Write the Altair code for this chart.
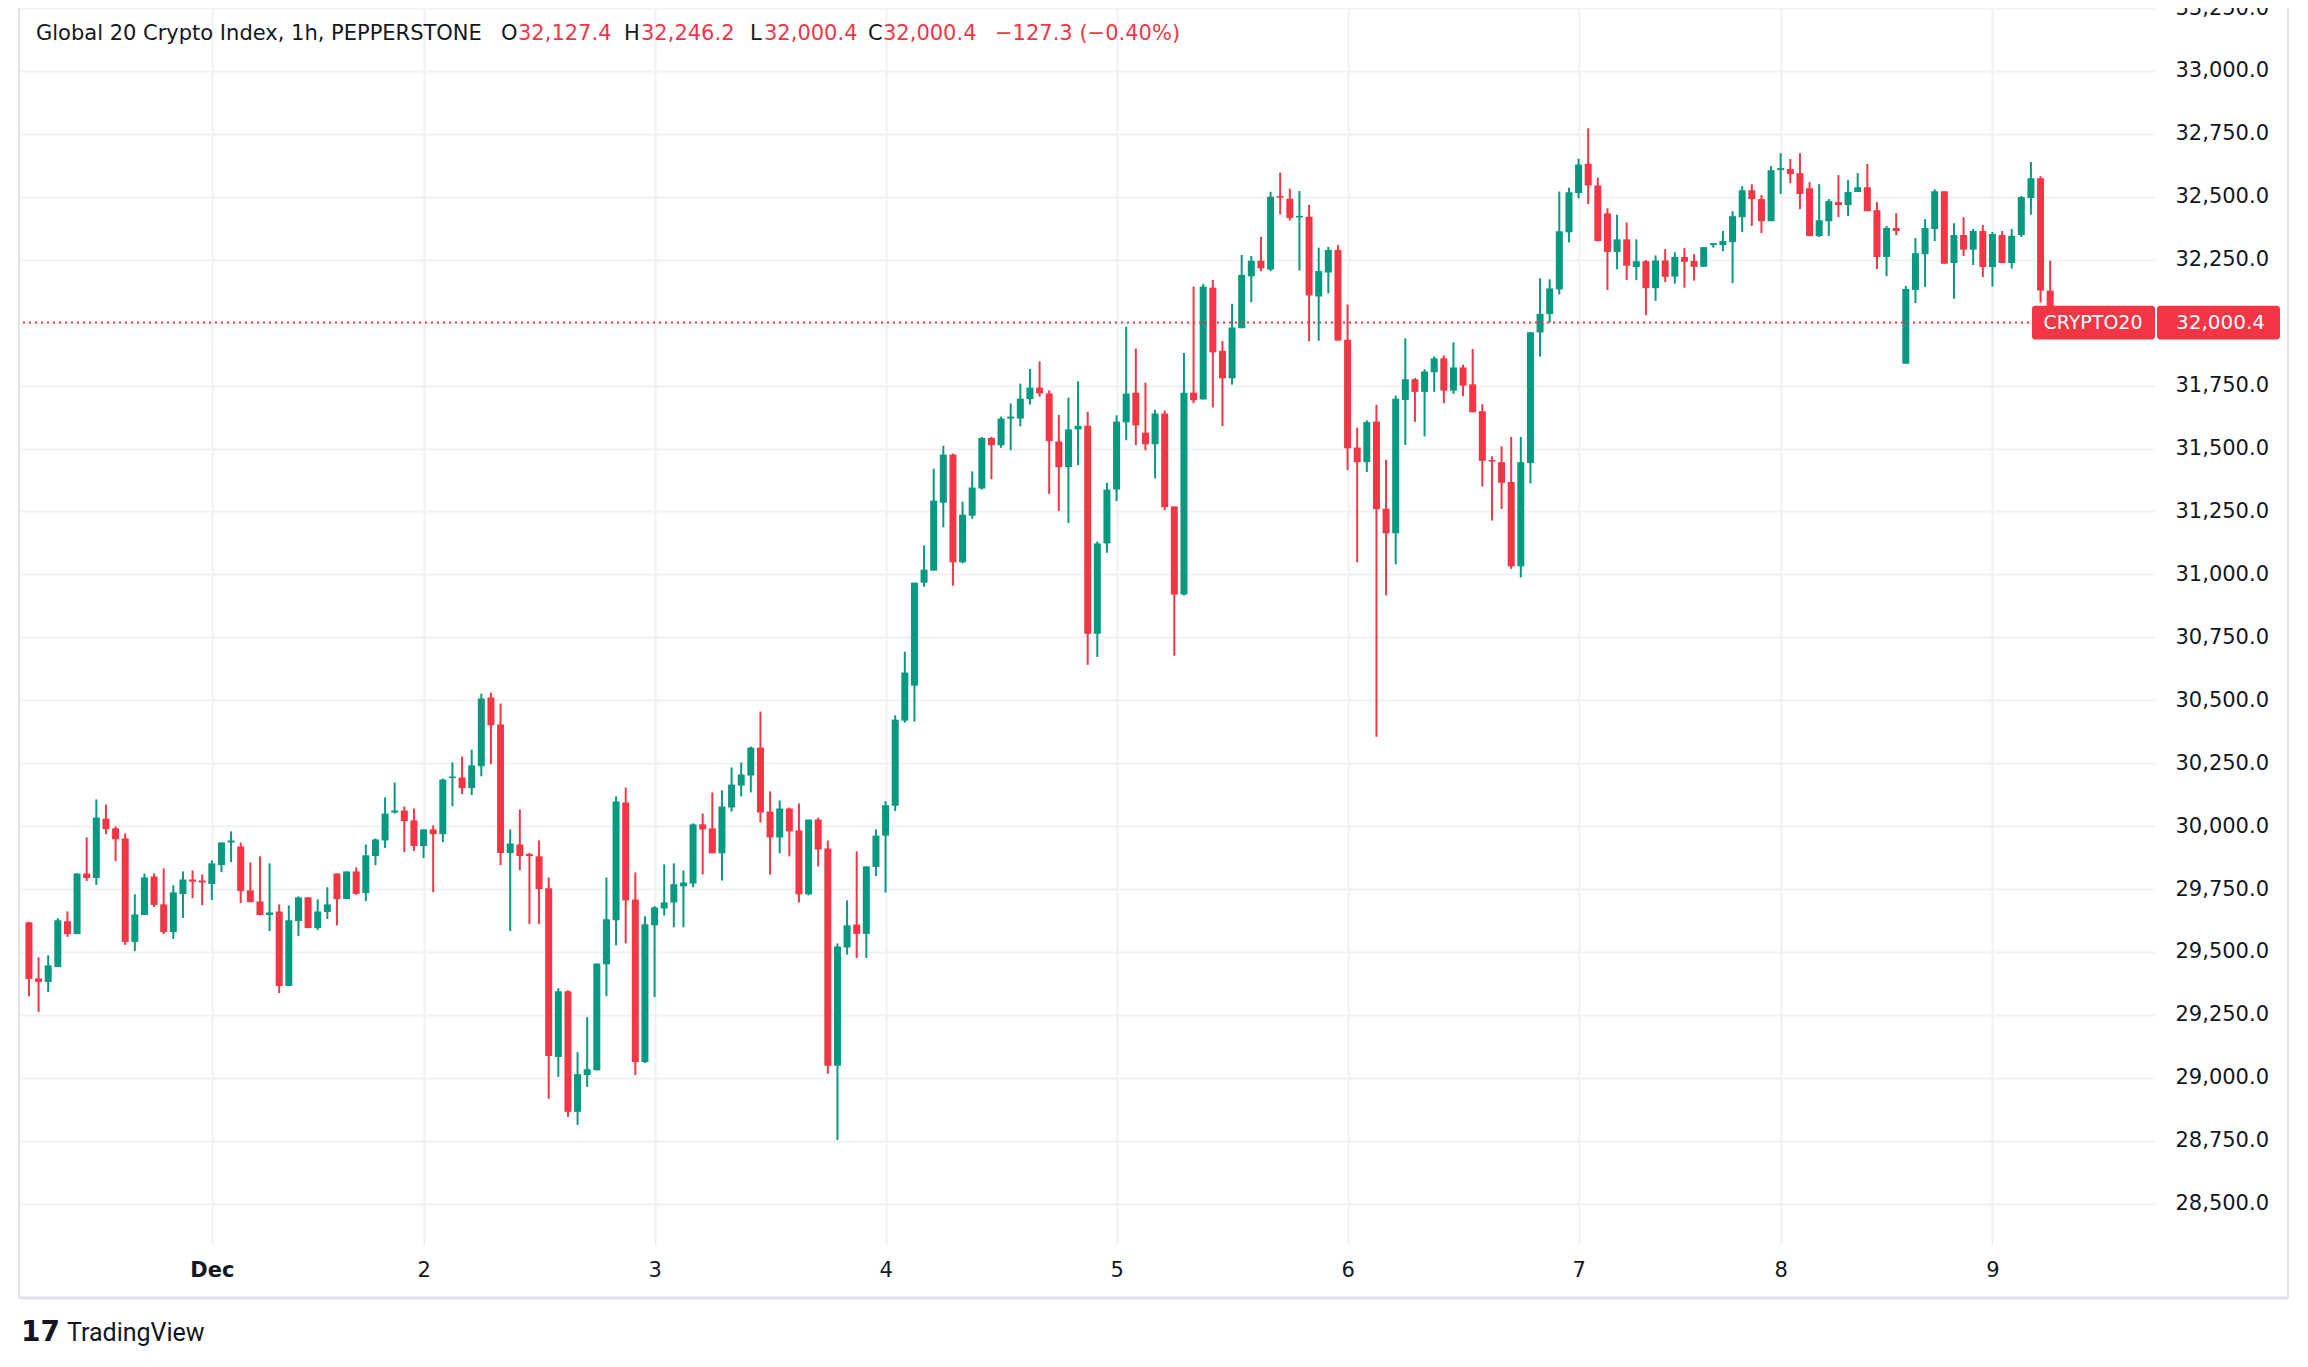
import altair as alt
import pandas as pd

# ---- hourly candles (index 0 = Nov 30, partial day) ----
opens = [29618, 29395, 29381, 29440, 29622, 29571, 29812, 29794, 30030, 29991,
         29951, 29540, 29647, 29800, 29689, 29579, 29730, 29788, 29784, 29770,
         29845, 29935, 29919, 29745, 29701, 29647, 29661, 29365, 29623, 29717,
         29595, 29659, 29812, 29710, 29820, 29734, 29881, 29943, 30054, 30062,
         30023, 29921, 29987, 29968, 30191, 30193, 30151, 30238, 30511, 30404,
         29893, 29927, 29889, 29880, 29753, 29083, 29344, 28865, 29011, 29030,
         29451, 29626, 30094, 29709, 29063, 29606, 29673, 29697, 29761, 29772,
         30007, 29991, 29892, 30074, 30161, 30201, 30312, 30058, 29955, 30070,
         29983, 29729, 30026, 29911, 29048, 29518, 29609, 29572, 29838, 29962,
         30081, 30419, 30558, 30967, 31015, 31285, 31476, 31048, 31233, 31341,
         31542, 31513, 31619, 31619, 31696, 31742, 31719, 31528, 31426, 31576,
         31590, 30764, 31123, 31337, 31604, 31722, 31563, 31517, 31639, 31270,
         30920, 31722, 31695, 32139, 31888, 31779, 31978, 32184, 32246, 32211,
         32503, 32492, 32418, 32421, 32104, 32199, 32289, 31932, 31504, 31446,
         31607, 31261, 31163, 31693, 31775, 31725, 31803, 31858, 31730, 31822,
         31755, 31648, 31454, 31446, 31367, 31032, 31443, 31961, 32034, 32132,
         32359, 32515, 32631, 32545, 32434, 32281, 32331, 32221, 32244, 32137,
         32247, 32183, 32261, 32245, 32222, 32308, 32308, 32320, 32419, 32526,
         32491, 32403, 32606, 32610, 32594, 32534, 32344, 32403, 32479, 32467,
         32519, 32538, 32447, 32261, 32376, 31837, 32130, 32272, 32372, 32522,
         32237, 32348, 32290, 32364, 32221, 32348, 32237, 32348, 32495, 32574,
         32127.4]
highs = [29620, 29479, 29487, 29634, 29661, 29812, 29955, 30106, 30086, 29999,
         29971, 29729, 29812, 29812, 29832, 29765, 29820, 29824, 29808, 29864,
         29935, 29979, 29935, 29856, 29880, 29852, 29689, 29685, 29721, 29717,
         29709, 29757, 29812, 29820, 29836, 29927, 29951, 30114, 30173, 30078,
         30070, 29987, 30003, 30189, 30253, 30276, 30304, 30526, 30530, 30487,
         29987, 30066, 29894, 29943, 29796, 29356, 29348, 29102, 29241, 29454,
         29796, 30118, 30153, 29816, 29642, 29682, 29848, 29852, 29824, 30011,
         30050, 30134, 30142, 30233, 30253, 30316, 30455, 30138, 30102, 30074,
         30090, 30026, 30034, 29943, 29534, 29705, 29900, 29840, 29987, 30099,
         30440, 30693, 30967, 31115, 31420, 31511, 31480, 31289, 31409, 31546,
         31546, 31627, 31679, 31758, 31816, 31846, 31731, 31634, 31702, 31767,
         31646, 31131, 31364, 31632, 31984, 31897, 31762, 31654, 31651, 31270,
         31880, 32143, 32154, 32170, 31927, 32075, 32269, 32265, 32341, 32520,
         32596, 32532, 32523, 32468, 32298, 32301, 32309, 32072, 31583, 31612,
         31674, 31455, 31710, 31938, 31780, 31815, 31866, 31870, 31922, 31833,
         31895, 31676, 31469, 31509, 31546, 31546, 31962, 32176, 32172, 32521,
         32536, 32651, 32772, 32576, 32454, 32429, 32398, 32331, 32249, 32267,
         32292, 32280, 32296, 32272, 32300, 32316, 32364, 32443, 32542, 32550,
         32507, 32622, 32673, 32650, 32673, 32558, 32550, 32491, 32586, 32566,
         32594, 32630, 32479, 32384, 32435, 32146, 32336, 32411, 32530, 32522,
         32395, 32419, 32372, 32388, 32360, 32364, 32372, 32503, 32638, 32582,
         32246.2]
lows = [29324, 29262, 29341, 29440, 29560, 29571, 29782, 29766, 29968, 29861,
        29528, 29504, 29647, 29679, 29571, 29552, 29635, 29714, 29686, 29706,
        29817, 29857, 29694, 29698, 29647, 29583, 29337, 29365, 29563, 29595,
        29587, 29631, 29606, 29710, 29727, 29702, 29845, 29913, 30050, 29897,
        29901, 29873, 29738, 29936, 30079, 30127, 30123, 30198, 30246, 29845,
        29583, 29825, 29611, 29611, 28917, 29004, 28845, 28813, 28964, 29030,
        29325, 29526, 29534, 29011, 29059, 29321, 29645, 29598, 29598, 29757,
        29808, 29892, 29784, 30058, 30118, 30134, 30015, 29808, 29892, 29880,
        29697, 29725, 29840, 29016, 28753, 29490, 29476, 29476, 29802, 29736,
        30060, 30411, 30415, 30951, 31015, 31187, 30955, 31044, 31221, 31337,
        31378, 31503, 31493, 31588, 31675, 31706, 31320, 31252, 31204, 31434,
        30641, 30672, 31086, 31291, 31533, 31513, 31493, 31381, 31255, 30677,
        30916, 31680, 31695, 31663, 31589, 31754, 31978, 32081, 32204, 32204,
        32430, 32406, 32207, 31926, 31928, 32116, 31929, 31414, 31048, 31407,
        30355, 30917, 31040, 31514, 31606, 31548, 31725, 31680, 31717, 31708,
        31644, 31349, 31214, 31260, 31022, 30988, 31361, 31865, 32000, 32112,
        32319, 32494, 32471, 32324, 32130, 32212, 32169, 32169, 32030, 32087,
        32162, 32155, 32139, 32167, 32222, 32298, 32284, 32157, 32360, 32384,
        32356, 32403, 32511, 32554, 32451, 32344, 32340, 32344, 32419, 32423,
        32519, 32443, 32213, 32185, 32348, 31837, 32078, 32142, 32324, 32234,
        32095, 32265, 32229, 32181, 32143, 32237, 32215, 32340, 32429, 32080,
        32000.4]
closes = [29393, 29381, 29447, 29626, 29571, 29812, 29794, 30034, 29988, 29948,
          29540, 29649, 29796, 29687, 29579, 29737, 29788, 29779, 29776, 29852,
          29935, 29943, 29742, 29698, 29647, 29657, 29365, 29626, 29717, 29595,
          29661, 29689, 29710, 29820, 29731, 29884, 29947, 30050, 30062, 30020,
          29921, 29987, 29968, 30185, 30197, 30151, 30241, 30507, 30401, 29893,
          29931, 29881, 29881, 29750, 29087, 29344, 28865, 29015, 29034, 29454,
          29630, 30098, 29705, 29063, 29610, 29677, 29697, 29769, 29776, 30007,
          29987, 29892, 30078, 30165, 30205, 30312, 30054, 29955, 30070, 29979,
          29729, 30026, 29907, 29048, 29522, 29606, 29572, 29840, 29962, 30083,
          30423, 30610, 30967, 31019, 31293, 31476, 31048, 31237, 31345, 31542,
          31513, 31619, 31627, 31698, 31742, 31719, 31530, 31426, 31576, 31590,
          30764, 31123, 31337, 31607, 31718, 31592, 31517, 31639, 31267, 30920,
          31722, 31692, 32143, 31882, 31779, 31981, 32190, 32246, 32216, 32500,
          32497, 32416, 32424, 32108, 32205, 32289, 31929, 31501, 31446, 31605,
          31259, 31163, 31698, 31775, 31725, 31806, 31858, 31730, 31822, 31750,
          31644, 31451, 31448, 31364, 31032, 31446, 31962, 32035, 32136, 32363,
          32518, 32628, 32545, 32324, 32281, 32331, 32226, 32244, 32137, 32247,
          32182, 32261, 32242, 32222, 32300, 32316, 32324, 32423, 32526, 32491,
          32403, 32606, 32614, 32590, 32511, 32344, 32407, 32483, 32467, 32519,
          32538, 32443, 32261, 32376, 32364, 32134, 32276, 32376, 32522, 32234,
          32348, 32290, 32364, 32221, 32352, 32237, 32345, 32499, 32574, 32127.7,
          32000.4]

# ---- axis ticks / labels ----
day_ticks = [19, 41, 65, 89, 113, 137, 161, 182, 204]
day_labels = ["Dec", "2", "3", "4", "5", "6", "7", "8", "9"]
price_ticks = [28500, 28750, 29000, 29250, 29500, 29750, 30000, 30250, 30500,
               30750, 31000, 31250, 31500, 31750, 32000, 32250, 32500, 32750,
               33000, 33250]
symbol = "CRYPTO20"
title_text = "Global 20 Crypto Index, 1h, PEPPERSTONE"
brand = "TradingView"

UP = "#089981"
DOWN = "#F23645"
INK = "#131722"
GRID = "#F0F1F3"
BORDER = "#E0E3EB"
FONT = "DejaVu Sans"

W, H = 2135, 1237

df = pd.DataFrame({"i": list(range(len(opens))), "o": opens, "h": highs,
                   "l": lows, "c": closes})
df["dir"] = ["up" if c >= o else "down" for o, c in zip(opens, closes)]
df["top"] = df[["o", "c"]].max(axis=1)
df["bot"] = df[["o", "c"]].min(axis=1)

last = closes[-1]
chg = closes[-1] - closes[-2]
pct = chg / closes[-2] * 100

xscale = alt.Scale(domain=[-0.41, 220.37], nice=False, zero=False)
yscale = alt.Scale(domain=[28336, 33250], nice=False, zero=False)

label_expr = "[" + ",".join("'%s'" % s for s in day_labels) + "][indexof([" + \
    ",".join(str(t) for t in day_ticks) + "], datum.value)]"

XAX = alt.Axis(values=day_ticks, labelExpr=label_expr, grid=True, gridColor=GRID,
               gridWidth=2, domain=False, ticks=False, labelFontSize=21,
               labelColor=INK, labelFont=FONT, labelPadding=14, labelFlush=False,
               labelFontWeight={"condition": {"test": "datum.value == 19", "value": "bold"},
                                "value": "normal"},
               title=None, zindex=0)
YAX = alt.Axis(values=price_ticks, format=",.1f", orient="right", grid=True,
               gridColor=GRID, gridWidth=2, domain=False, ticks=False,
               labelFontSize=21, labelColor=INK, labelFont=FONT, labelAlign="left",
               labelPadding=20, labelFlush=False, labelOverlap=False, title=None, zindex=0)

colr = alt.Color("dir:N", scale=alt.Scale(domain=["up", "down"], range=[UP, DOWN]), legend=None)

base = alt.Chart(df)
wicks = base.mark_rule(strokeWidth=2).encode(
    x=alt.X("i:Q", scale=xscale, axis=XAX),
    y=alt.Y("l:Q", scale=yscale, axis=YAX),
    y2="h:Q", color=colr)
bodies = base.mark_bar(size=7).encode(
    x=alt.X("i:Q", scale=xscale, axis=XAX),
    y=alt.Y("top:Q", scale=yscale, axis=YAX),
    y2="bot:Q", color=colr)
candles = alt.layer(wicks, bodies)

pdf = pd.DataFrame({"p": [last], "sym": [symbol], "lab": [f"{last:,.1f}"]})
pbase = alt.Chart(pdf).transform_calculate(y1="datum.p + 67", y2="datum.p - 67")
pline = alt.Chart(pdf).mark_rule(color=DOWN, strokeWidth=2, strokeDash=[2, 4]).encode(
    y=alt.Y("p:Q", scale=yscale, axis=YAX))
box1 = pbase.mark_rect(color=DOWN, cornerRadius=3).encode(
    x=alt.value(2012), x2=alt.value(2135),
    y=alt.Y("y1:Q", scale=yscale, axis=YAX), y2="y2:Q")
box2 = pbase.mark_rect(color=DOWN, cornerRadius=3).encode(
    x=alt.value(2137), x2=alt.value(2260),
    y=alt.Y("y1:Q", scale=yscale, axis=YAX), y2="y2:Q")
t1 = alt.Chart(pdf).mark_text(color="white", fontSize=19, font=FONT, align="center",
                              baseline="middle").encode(
    x=alt.value(2073), y=alt.Y("p:Q", scale=yscale, axis=YAX), text="sym:N")
t2 = alt.Chart(pdf).mark_text(color="white", fontSize=20, font=FONT, align="left",
                              baseline="middle").encode(
    x=alt.value(2156), y=alt.Y("p:Q", scale=yscale, axis=YAX), text="lab:N")

# header legend
hdr_text = [title_text, "O", f"{opens[-1]:,.1f}", "H", f"{highs[-1]:,.1f}",
            "L", f"{lows[-1]:,.1f}", "C", f"{closes[-1]:,.1f}",
            f"\u2212{abs(chg):.1f} (\u2212{abs(pct):.2f}%)"]
hdr_x = [16, 481, 498, 604, 621, 730, 744, 848, 863, 975]
hdr_kind = ["k", "k", "r", "k", "r", "k", "r", "k", "r", "r"]
hdr = pd.DataFrame({"t": hdr_text, "px": hdr_x, "k": hdr_kind})
header = alt.Chart(hdr).mark_text(fontSize=21, font=FONT, align="left",
                                  baseline="middle").encode(
    x=alt.X("px:Q", scale=None), y=alt.value(26), text="t:N",
    color=alt.Color("k:N", scale=alt.Scale(domain=["k", "r"], range=[INK, DOWN]), legend=None))

brand_df = pd.DataFrame({"t": [brand]})
logo = alt.Chart(brand_df).mark_text(text="17", fontSize=28, font="DejaVu Sans", fontWeight="bold",
                                     color=INK, align="left", baseline="middle").encode(
    x=alt.value(1), y=alt.value(1325))
brand_t = alt.Chart(brand_df).mark_text(fontSize=25, font="Roboto", color=INK, align="left",
                                        baseline="middle").encode(
    x=alt.value(47), y=alt.value(1325), text="t:N")

# widget frame
fr_l = alt.Chart(brand_df).mark_rule(color=BORDER, strokeWidth=2).encode(
    x=alt.value(-1), y=alt.value(0), y2=alt.value(1290))
fr_r = alt.Chart(brand_df).mark_rule(color=BORDER, strokeWidth=2).encode(
    x=alt.value(2268), y=alt.value(0), y2=alt.value(1290))
fr_b = alt.Chart(brand_df).mark_rule(color=BORDER, strokeWidth=3).encode(
    x=alt.value(-1), x2=alt.value(2268), y=alt.value(1290))

chart = alt.layer(candles, pline, box1, box2, t1, t2, header, logo, brand_t,
                  fr_l, fr_r, fr_b).resolve_scale(color="independent").properties(
    width=W, height=H,
    padding={"left": 12, "top": 0, "right": 137, "bottom": 108},
    autosize=alt.AutoSizeParams(type="none"),
    background="white",
).configure_view(stroke=None)

chart.save("out.html", embed_options={"renderer": "svg", "actions": False})
